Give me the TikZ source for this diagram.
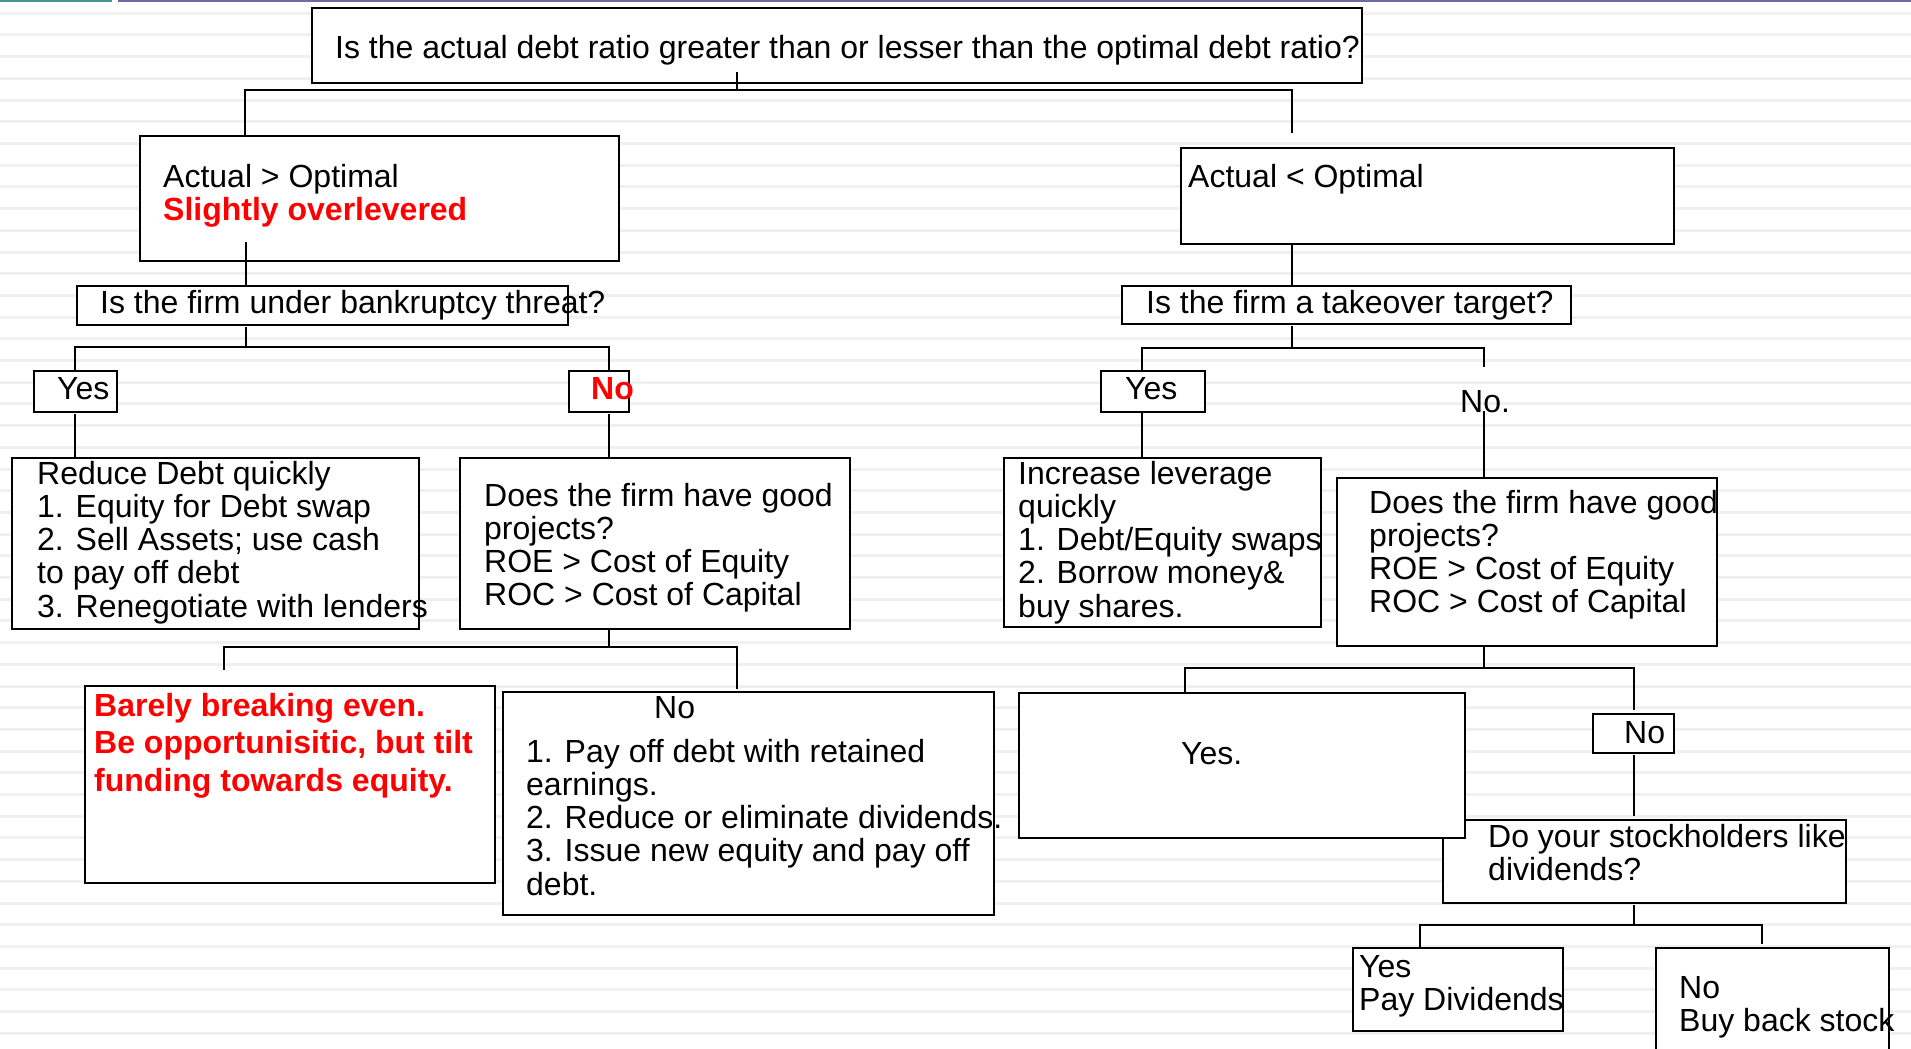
\documentclass[tikz,border=0pt]{standalone}
\usepackage{fontspec}
\setmainfont{Liberation Sans}
\definecolor{stripe}{HTML}{F0F0F0}
\definecolor{barteal}{HTML}{4A9494}
\definecolor{barblue}{HTML}{6B6BAA}
\definecolor{alert}{HTML}{FF0000}
\tikzset{
  box/.style={draw=black, line width=2.4pt, fill=white, inner sep=0pt, anchor=north west},
  link/.style={draw=black, line width=2.2pt, line cap=rect},
  txt/.style={inner sep=0pt, anchor=base west, font=\fontsize{32}{33.3}\selectfont},
  hot/.style={txt, text=alert, font=\fontsize{32}{33.3}\selectfont\bfseries},
}
% a left-aligned block whose reference point is the first baseline
\newcommand{\rowsblock}[1]{\begin{tabular}[t]{@{}l@{}}#1\end{tabular}}
% a framed box given by its corners (x1,y1) and (x2,y2)
\newcommand{\panel}[5]{\node[box, minimum width={(#4)-(#2)}, minimum height={(#5)-(#3)}] (#1) at (#2,#3) {};}
\begin{document}
\begin{tikzpicture}[x=1pt,y=-1pt]
\useasboundingbox (0,0) rectangle (1911,1049);
\fill[white] (0,0) rectangle (1911,1049);
% ruled background
\foreach \k in {0,...,48}
  \fill[stripe] (0,{11.8+21.7*\k}) rectangle (1911,{14.8+21.7*\k});
\draw[barteal, line width=2.5pt] (0,1) -- (112,1);
\draw[barblue, line width=2.5pt] (118,1) -- (1911,1);

% boxes
\panel{q0}{311}{7}{1361}{82}
\panel{over}{139}{135}{618}{260}
\panel{bank}{76}{285}{567}{324}
\panel{yesL}{33}{370}{116}{411}
\panel{noL}{568}{370}{628}{411}
\panel{reduce}{11}{457}{418}{628}
\panel{projL}{459}{457}{849}{628}
\panel{barely}{84}{685}{494}{882}
\panel{noB}{502}{691}{993}{914}
\panel{under}{1180}{147}{1673}{243}
\panel{takeover}{1121}{285}{1570}{323}
\panel{yesR}{1100}{370}{1204}{411}
\panel{increase}{1003}{457}{1320}{626}
\panel{projR}{1336}{477}{1716}{645}
\panel{divq}{1442}{819}{1845}{902}
\panel{yesP}{1018}{692}{1464}{837}
\panel{noS}{1592}{713}{1673}{752}
\panel{payD}{1352}{947}{1562}{1030}
\panel{buyB}{1655}{947}{1888}{1065}

% branch points
\coordinate (s0) at (737,73);   \coordinate (h0) at (737,90);
\coordinate (h0l) at (245,90);  \coordinate (h0r) at (1292,90);
\coordinate (e0r) at (1292,132);
\coordinate (s1) at (246,243);
\coordinate (s2) at (246,328);  \coordinate (h2) at (246,347);
\coordinate (h2l) at (75,347);  \coordinate (h2r) at (609,347);
\coordinate (s3l) at (75,415);  \coordinate (s3r) at (609,415);
\coordinate (h4) at (609,647);
\coordinate (h4l) at (224,647); \coordinate (h4r) at (737,647);
\coordinate (e4l) at (224,669); \coordinate (e4r) at (737,688);
\coordinate (s5) at (1292,243);
\coordinate (s6) at (1292,327); \coordinate (h6) at (1292,348);
\coordinate (h6l) at (1142,348); \coordinate (h6r) at (1484,348);
\coordinate (e6r) at (1484,366);
\coordinate (s7l) at (1142,414); \coordinate (s7r) at (1484,412);
\coordinate (h8) at (1484,668);
\coordinate (h8l) at (1185,668); \coordinate (h8r) at (1634,668);
\coordinate (e8r) at (1634,709);
\coordinate (s9) at (1634,756); \coordinate (e9) at (1634,815);
\coordinate (s10) at (1634,906); \coordinate (h10) at (1634,925);
\coordinate (h10l) at (1420,925); \coordinate (h10r) at (1762,925);
\coordinate (e10r) at (1762,943);

% connectors
\draw[link] (s0) -- (h0);
\draw[link] (h0l) -- (h0r);
\draw[link] (h0l) -- (h0l |- over.north);
\draw[link] (h0r) -- (e0r);
\draw[link] (s1) -- (s1 |- bank.north);
\draw[link] (s2) -- (h2);
\draw[link] (h2l) -- (h2r);
\draw[link] (h2l) -- (h2l |- yesL.north);
\draw[link] (h2r) -- (h2r |- noL.north);
\draw[link] (s3l) -- (s3l |- reduce.north);
\draw[link] (s3r) -- (s3r |- projL.north);
\draw[link] (h4 |- projL.south) -- (h4);
\draw[link] (h4l) -- (h4r);
\draw[link] (h4l) -- (e4l);
\draw[link] (h4r) -- (e4r);
\draw[link] (s5 |- under.south) -- (s5 |- takeover.north);
\draw[link] (s6) -- (h6);
\draw[link] (h6l) -- (h6r);
\draw[link] (h6l) -- (h6l |- yesR.north);
\draw[link] (h6r) -- (e6r);
\draw[link] (s7l) -- (s7l |- increase.north);
\draw[link] (s7r) -- (s7r |- projR.north);
\draw[link] (h8 |- projR.south) -- (h8);
\draw[link] (h8l) -- (h8r);
\draw[link] (h8l) -- (h8l |- yesP.north);
\draw[link] (h8r) -- (e8r);
\draw[link] (s9) -- (e9);
\draw[link] (s10) -- (h10);
\draw[link] (h10l) -- (h10r);
\draw[link] (h10l) -- (h10l |- payD.north);
\draw[link] (h10r) -- (e10r);

% texts, left branch
\node[txt] (tq0) at (335,59) {Is the actual debt ratio greater than or lesser than the optimal debt ratio?};
\node[txt] (tover) at (163,187) {Actual > Optimal};
\node[hot] (tover2) at (163,220) {Slightly overlevered};
\node[txt] (tbank) at (100,313) {Is the firm under bankruptcy threat?};
\node[txt] (tyesL) at (57,399) {Yes};
\node[hot] (tnoL) at (591,399) {No};
\node[txt] (treduce) at (37,484) {\rowsblock{Reduce Debt quickly\\1. Equity for Debt swap\\2. Sell Assets; use cash\\to pay off debt\\3. Renegotiate with lenders}};
\node[txt] (tprojL) at (484,506) {\rowsblock{Does the firm have good\\projects?\\ROE > Cost of Equity\\ROC > Cost of Capital}};
\node[hot, font=\fontsize{32}{37.5}\selectfont\bfseries] (tbarely) at (94,716) {\rowsblock{Barely breaking even.\\Be opportunisitic, but tilt\\funding towards equity.}};
\node[txt] (tnoB) at (654,718) {No};
\node[txt] (tnoB2) at (526,762) {\rowsblock{1. Pay off debt with retained\\earnings.\\2. Reduce or eliminate dividends.\\3. Issue new equity and pay off\\debt.}};

% texts, right branch
\node[txt] (tunder) at (1188,187) {Actual < Optimal};
\node[txt] (ttake) at (1146,313) {Is the firm a takeover target?};
\node[txt] (tyesR) at (1125,399) {Yes};
\node[txt] (tnoR) at (1460,412) {No.};
\node[txt] (tinc) at (1018,484) {\rowsblock{Increase leverage\\quickly\\1. Debt/Equity swaps\\2. Borrow money\&\\buy shares.}};
\node[txt] (tprojR) at (1369,513) {\rowsblock{Does the firm have good\\projects?\\ROE > Cost of Equity\\ROC > Cost of Capital}};
\node[txt] (tyesP) at (1181,764) {Yes.};
\node[txt] (tnoS) at (1624,743) {No};
\node[txt] (tdiv) at (1488,847) {\rowsblock{Do your stockholders like\\dividends?}};
\node[txt] (tpay) at (1359,977) {\rowsblock{Yes\\Pay Dividends}};
\node[txt] (tbuy) at (1679,998) {\rowsblock{No\\Buy back stock}};
\end{tikzpicture}
\end{document}
